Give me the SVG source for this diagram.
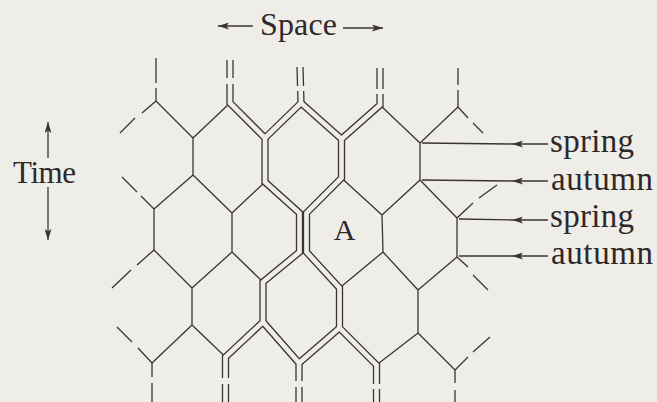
<svg xmlns="http://www.w3.org/2000/svg" width="657" height="402" viewBox="0 0 657 402">
<defs>
<style>
.s{stroke:#3a3434;stroke-width:1.3;fill:none}
.dd{stroke:#3a3434;stroke-width:7.3;fill:none;stroke-linejoin:miter}
.dl{stroke:#eeede8;stroke-width:4.7;fill:none;stroke-linejoin:miter}
.gap{fill:#eeede8}
.t{font-family:"Liberation Serif","Times New Roman",serif;fill:#2e2828}
</style>
<marker id="ah" markerUnits="userSpaceOnUse" viewBox="0 0 11 7" refX="11" refY="3.5" markerWidth="11" markerHeight="7" orient="auto"><path d="M0,0 L11,3.5 L0,7 L2.5,3.5 z" fill="#3a3434"/></marker>
<path id="T1" d="M230,60 L230,103 L265,138 L265,182 L299.5,213 L299.5,252 L263,282 L263,322 L225.5,357 L225.5,402"/>
<path id="T2" d="M380,68 L380,105 L341.5,139 L341.5,178 L306.5,213 L306.5,252 L339.5,288 L339.5,328 L376.5,365 L376.5,402"/>
<path id="T3" d="M300,67 L301,103 L265,138"/>
<path id="T4" d="M301,103 L341.5,139"/>
<path id="B3" d="M263,322 L299,363 L299,402"/>
<path id="B4" d="M339.5,328 L299,363"/>
</defs>
<rect width="657" height="402" fill="#eeede8"/>

<g id="lattice-single">
<path class="s" d="M156,101 L193,138 M230,103 L193,138 M380,105 L420,143 M458,107 L420,143
M193,138 L193,175 M420,143 L420,180
M193,175 L154,209 M193,175 L232,213 M265,182 L232,213 M341.5,178 L382,215 M420,180 L382,215 M420,180 L457,218
M154,209 L154,250 M232,213 L232,252 M382,215 L383,252 M457,218 L457,257
M154,250 L192,288 M232,252 L192,288 M232,252 L263,282 M383,252 L339.5,288 M383,252 L418,290 M457,257 L418,290
M192,288 L192,325 M418,290 L418,333
M192,325 L152,363 M192,325 L225.5,357 M418,333 L376.5,365 M418,333 L455,370"/>
</g>

<g id="lattice-edges">
<path class="s" d="M156,58 L156,83 M156,88 L156,101 M458,68 L458,85 M458,90 L458,107
M152,363 L152,377 M152,383 L152,402 M455,370 L455,383 M455,390 L455,402
M156,101 L142,113 M135,118 L120,133
M122,177 L137,192 M141,196 L154,209
M154,250 L137,265 M131,270 L112,288
M117,327 L132,342 M138,348 L152,363
M458,107 L468,118 M473,123 L483,133
M457,218 L473,203 M479,198 L497,185
M457,257 L468,267 M473,275 L488,290
M455,370 L468,357 M473,352 L490,337"/>
</g>

<g id="lineages">
<use href="#T1" class="dd"/><use href="#T2" class="dd"/><use href="#T3" class="dd"/><use href="#T4" class="dd"/><use href="#B3" class="dd"/><use href="#B4" class="dd"/>
<use href="#T1" class="dl"/><use href="#T2" class="dl"/><use href="#T3" class="dl"/><use href="#T4" class="dl"/><use href="#B3" class="dl"/><use href="#B4" class="dl"/>
<rect class="gap" x="224" y="78" width="12" height="6"/>
<rect class="gap" x="294" y="86" width="12" height="5"/>
<rect class="gap" x="374" y="89" width="12" height="5"/>
<rect class="gap" x="219" y="378" width="13" height="6"/>
<rect class="gap" x="293" y="381" width="13" height="6"/>
<rect class="gap" x="370" y="384" width="13" height="5"/>
</g>

<g id="connectors">
<path class="s" d="M548,144 L512,144 L422,143" marker-mid="url(#ah)"/>
<path class="s" d="M548,181 L512,181 L422,180" marker-mid="url(#ah)"/>
<path class="s" d="M548,220 L512,220 L459,219" marker-mid="url(#ah)"/>
<path class="s" d="M548,256 L512,256 L459,256" marker-mid="url(#ah)"/>
<path class="s" d="M253,26 L218,26" marker-end="url(#ah)"/>
<path class="s" d="M343,28 L383,28" marker-end="url(#ah)"/>
<path class="s" d="M48,158 L48,122" marker-end="url(#ah)"/>
<path class="s" d="M48,187 L48,240" marker-end="url(#ah)"/>
</g>

<g id="labels">
<text class="t" x="260" y="35" font-size="32" textLength="77">Space</text>
<text class="t" x="13" y="183" font-size="31" textLength="63">Time</text>
<text class="t" x="550" y="152" font-size="33" textLength="84">spring</text>
<text class="t" x="551" y="190" font-size="33" textLength="102">autumn</text>
<text class="t" x="550" y="227" font-size="33" textLength="84">spring</text>
<text class="t" x="551" y="264" font-size="33" textLength="102">autumn</text>
<text class="t" x="344.5" y="240" font-size="30" text-anchor="middle">A</text>
</g>
</svg>
